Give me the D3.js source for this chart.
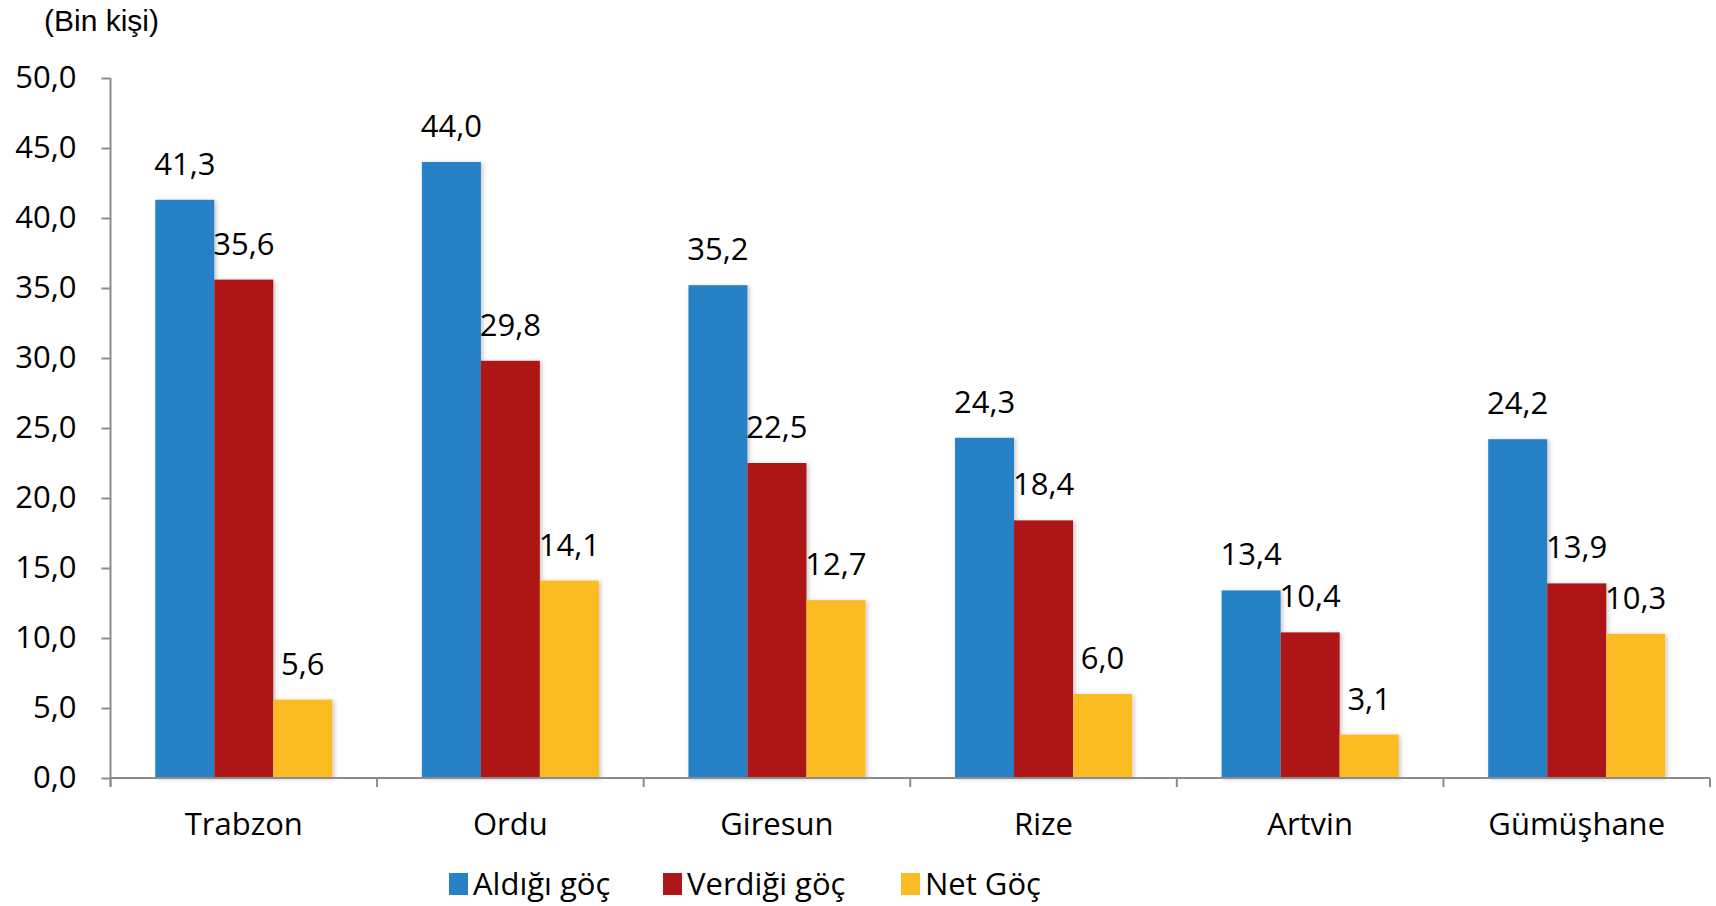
<!DOCTYPE html>
<html>
<head>
<meta charset="utf-8">
<script src="https://cdn.jsdelivr.net/npm/d3@7"></script>
<style>
  html, body { margin: 0; padding: 0; background: #fff; }
  #chart { width: 1716px; height: 906px; }
</style>
</head>
<body>
<div id="chart"></div>
<script>
(function() {

  'use strict'

  // data
  var categories = ['Trabzon', 'Ordu', 'Giresun', 'Rize', 'Artvin', 'Gümüşhane'];
  var seriesNames = ['Aldığı göç', 'Verdiği göç', 'Net Göç'];
  var aldigi = [41.3, 44.0, 35.2, 24.3, 13.4, 24.2];
  var verdigi = [35.6, 29.8, 22.5, 18.4, 10.4, 13.9];
  var net = [5.6, 14.1, 12.7, 6.0, 3.1, 10.3];
  var yTicks = [0, 5, 10, 15, 20, 25, 30, 35, 40, 45, 50];
  var unitLabel = '(Bin kişi)';

  var series = [aldigi, verdigi, net];
  var colors = ['#2781c6', '#ae1719', '#fbbb23'];

  var width = 1716, height = 906;
  var fontFamily = '\'Open Sans\', sans-serif';
  var fontSize = 31;
  var axisColor = '#8c8c8c';
  var legendX = [449, 663, 901];

  var svg = d3.select('#chart').append('svg')
    .attr('width', width)
    .attr('height', height);

  var defs = svg.append('defs');
  defs.append('filter')
    .attr('id', 'shadow')
    .attr('x', '-10%').attr('y', '-10%')
    .attr('width', '130%').attr('height', '130%')
    .append('feDropShadow')
    .attr('dx', 2).attr('dy', 1)
    .attr('stdDeviation', 2)
    .attr('flood-color', '#000')
    .attr('flood-opacity', 0.22);

  var x = d3.scaleBand()
    .domain(categories)
    .range([110.5, 1710])
    .paddingInner(0.336)
    .paddingOuter(0.168);

  var x1 = d3.scaleBand()
    .domain(d3.range(series.length))
    .range([0, x.bandwidth()]);

  var y = d3.scaleLinear()
    .domain([0, 50])
    .range([778, 78]);

  // unit label
  svg.append('text')
    .attr('x', 44)
    .attr('y', 20)
    .attr('dy', '0.35em')
    .attr('font-family', '\'Liberation Sans\', Arial, sans-serif')
    .attr('font-size', 30)
    .attr('fill', '#000')
    .text(unitLabel);

  // bars
  var groups = svg.append('g').selectAll('g')
    .data(categories)
    .enter().append('g')
    .attr('transform', function(d) { return 'translate(' + x(d) + ',0)'; });

  groups.selectAll('rect')
    .data(function(d, i) { return series.map(function(s, k) { return { k: k, v: s[i] }; }); })
    .enter().append('rect')
    .attr('x', function(d) { return x1(d.k); })
    .attr('width', x1.bandwidth())
    .attr('y', function(d) { return y(d.v); })
    .attr('height', function(d) { return y(0) - y(d.v); })
    .attr('fill', function(d) { return colors[d.k]; })
    .attr('filter', 'url(#shadow)');

  groups.selectAll('text')
    .data(function(d, i) { return series.map(function(s, k) { return { k: k, v: s[i] }; }); })
    .enter().append('text')
    .attr('x', function(d) { return x1(d.k) + x1.bandwidth() / 2; })
    .attr('y', function(d) { return y(d.v) - 25; })
    .attr('text-anchor', 'middle')
    .attr('font-family', fontFamily)
    .attr('font-size', fontSize)
    .attr('fill', '#000')
    .text(function(d) { return d.v.toFixed(1).replace('.', ','); });

  // y axis
  var yAxis = svg.append('g')
    .attr('transform', 'translate(110.5,0)')
    .call(d3.axisLeft(y)
      .tickValues(yTicks)
      .tickSize(9)
      .tickPadding(25)
      .tickFormat(function(d) { return d.toFixed(1).replace('.', ','); }));
  yAxis.select('.domain').remove();
  yAxis.selectAll('line').attr('stroke', axisColor).attr('stroke-width', 2);
  yAxis.selectAll('text')
    .attr('font-family', fontFamily)
    .attr('font-size', fontSize)
    .attr('fill', '#000');

  svg.append('line')
    .attr('x1', 110.5).attr('x2', 110.5)
    .attr('y1', y(50)).attr('y2', y(0) + 9)
    .attr('stroke', axisColor).attr('stroke-width', 2);

  // x axis
  svg.append('line')
    .attr('x1', 110.5).attr('x2', 1710)
    .attr('y1', y(0)).attr('y2', y(0))
    .attr('stroke', axisColor).attr('stroke-width', 2);

  var gap = (x.step() - x.bandwidth()) / 2;
  var bounds = categories.map(function(c) { return x(c) - gap; }).concat([x.range()[1]]);
  svg.append('g').selectAll('line')
    .data(bounds)
    .enter().append('line')
    .attr('x1', function(d) { return d; })
    .attr('x2', function(d) { return d; })
    .attr('y1', y(0))
    .attr('y2', y(0) + 9)
    .attr('stroke', axisColor)
    .attr('stroke-width', 2);

  svg.append('g').selectAll('text')
    .data(categories)
    .enter().append('text')
    .attr('x', function(d) { return x(d) + x.bandwidth() / 2; })
    .attr('y', 824)
    .attr('dy', '0.35em')
    .attr('text-anchor', 'middle')
    .attr('font-family', fontFamily)
    .attr('font-size', fontSize)
    .attr('fill', '#000')
    .text(String);

  // legend
  var legend = svg.append('g');
  seriesNames.forEach(function(name, k) {
    legend.append('rect')
      .attr('x', legendX[k]).attr('y', 873)
      .attr('width', 19).attr('height', 22)
      .attr('fill', colors[k]);
    legend.append('text')
      .attr('x', legendX[k] + 24)
      .attr('y', 884)
      .attr('dy', '0.35em')
      .attr('font-family', fontFamily)
      .attr('font-size', fontSize)
      .attr('fill', '#000')
      .text(name);
  });

})();
</script>
</body>
</html>
